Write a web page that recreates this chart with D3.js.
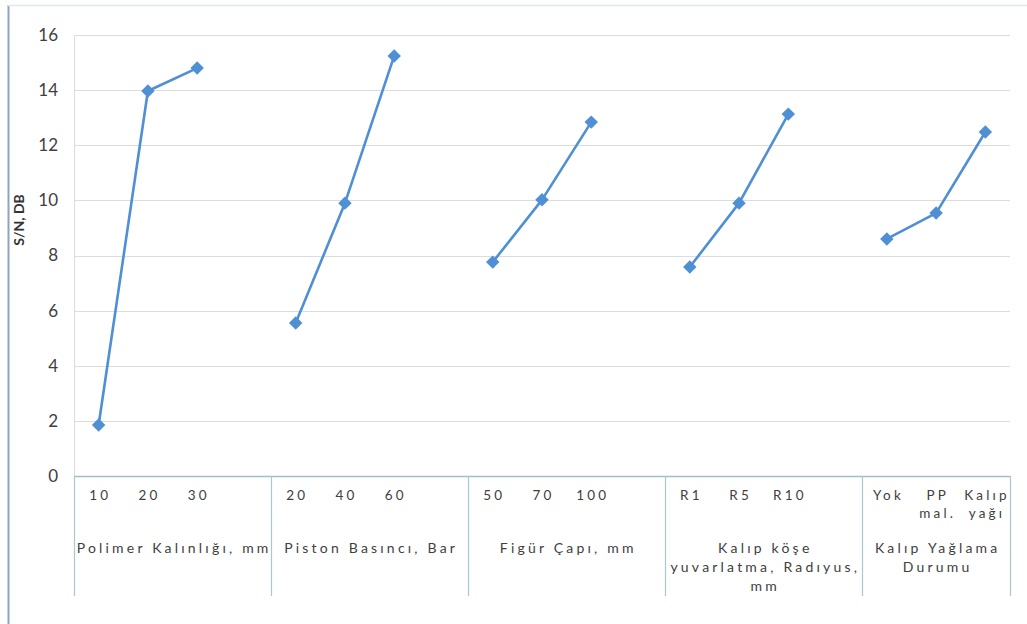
<!DOCTYPE html>
<html>
<head>
<meta charset="utf-8">
<script src="https://cdn.jsdelivr.net/npm/d3@7"></script>
<style>
  html, body { margin: 0; padding: 0; background: #ffffff; }
  svg { display: block; }
  text { font-family: Lato, "Open Sans", "Liberation Sans", sans-serif; fill: #404040; }
</style>
</head>
<body>
<svg id="chart" width="1027" height="624"></svg>
<script>
// ---- data ----
const groupLabels = [
  ["Polimer Kalınlığı, mm"],
  ["Piston Basıncı, Bar"],
  ["Figür Çapı, mm"],
  ["Kalıp köşe", "yuvarlatma, Radıyus,", "mm"],
  ["Kalıp Yağlama", "Durumu"]
];
const levelLabels = [
  ["10", "20", "30"],
  ["20", "40", "60"],
  ["50", "70", "100"],
  ["R1", "R5", "R10"],
  ["Yok", "PP\nmal.", "Kalıp\nyağı"]
];
const snValues = [
  [1.85, 13.97, 14.80],
  [5.55, 9.90, 15.24],
  [7.76, 10.02, 12.84],
  [7.58, 9.90, 13.13],
  [8.60, 9.54, 12.48]
];
const yTicks = [0, 2, 4, 6, 8, 10, 12, 14, 16];
const yTitle = "S/N, DB";

// ---- layout ----
const W = 1027, H = 624;
const plot = { left: 74, right: 1010, top: 35, bottom: 476 };
const tableBottom = 596;
const blue = "#4F8FD4";

const svg = d3.select("#chart");

// slots: three levels per group, plus one empty slot between groups
const slots = [];
groupLabels.forEach((g, gi) => {
  levelLabels[gi].forEach((l, li) => slots.push(`g${gi}-${li}`));
  if (gi < groupLabels.length - 1) slots.push(`gap${gi}`);
});

const x = d3.scaleBand().domain(slots).range([plot.left, plot.right]).padding(0);
const y = d3.scaleLinear().domain([0, 16]).range([plot.bottom, plot.top]);
const cx = key => x(key) + x.bandwidth() / 2;

// outer frame
svg.append("line").attr("x1", 8.5).attr("x2", 8.5).attr("y1", 5).attr("y2", H)
  .attr("stroke", "#8ea3c8").attr("stroke-width", 2);
svg.append("line").attr("x1", 8).attr("x2", W).attr("y1", 5.5).attr("y2", 5.5)
  .attr("stroke", "#dde9ec").attr("stroke-width", 1.5);

// gridlines
svg.append("g").selectAll("line").data(yTicks.filter(t => t > 0)).join("line")
  .attr("x1", plot.left).attr("x2", plot.right)
  .attr("y1", d => Math.round(y(d)) + 0.5).attr("y2", d => Math.round(y(d)) + 0.5)
  .attr("stroke", "#dcdcdc").attr("stroke-width", 1);
// plot-area left border
svg.append("line").attr("x1", plot.left + 0.5).attr("x2", plot.left + 0.5)
  .attr("y1", plot.top).attr("y2", plot.bottom)
  .attr("stroke", "#dcdcdc");

// y axis labels
const yAxis = d3.axisLeft(y).tickValues(yTicks).tickSize(0).tickPadding(0);
const yg = svg.append("g").attr("transform", `translate(${plot.left - 16},0)`).call(yAxis);
yg.select(".domain").remove();
yg.selectAll("text").style("font-size", "17px").style("fill", "#404040")
  .style("font-family", "Lato, 'Open Sans', sans-serif");

// y title
svg.append("text")
  .attr("transform", `translate(24,220) rotate(-90)`)
  .attr("text-anchor", "middle")
  .style("font-size", "14px").style("font-weight", "bold").style("fill", "#333")
  .text(yTitle);

// category table
const groupStart = gi => x(`g${gi}-0`);
const groupEnd = gi => gi < groupLabels.length - 1 ? x(`g${gi + 1}-0`) : plot.right;
const tableColor = "#a7c8cf";
svg.append("line").attr("x1", plot.left).attr("x2", plot.right)
  .attr("y1", plot.bottom + 0.5).attr("y2", plot.bottom + 0.5)
  .attr("stroke", "#9fc0c8").attr("stroke-width", 1.5);
const bounds = groupLabels.map((g, gi) => groupStart(gi)).concat([plot.right]);
svg.append("g").selectAll("line").data(bounds).join("line")
  .attr("x1", d => Math.round(d) + 0.5).attr("x2", d => Math.round(d) + 0.5)
  .attr("y1", plot.bottom).attr("y2", tableBottom)
  .attr("stroke", tableColor).attr("stroke-width", 1.2);

// level labels
const ls = 3.2;
const lvl = svg.append("g").style("font-size", "13.5px").style("letter-spacing", ls + "px");
levelLabels.forEach((labels, gi) => {
  labels.forEach((lab, li) => {
    const px = cx(`g${gi}-${li}`) + ls / 2;
    const t = lvl.append("text").attr("text-anchor", "middle").attr("x", px).attr("y", 500);
    lab.split("\n").forEach((line, k) => {
      t.append("tspan").attr("x", px).attr("dy", k === 0 ? 0 : 18).text(line);
    });
  });
});

// group labels
const grp = svg.append("g").style("font-size", "14px").style("letter-spacing", ls + "px");
groupLabels.forEach((lines, gi) => {
  const mx = (groupStart(gi) + groupEnd(gi)) / 2 + ls / 2;
  const t = grp.append("text").attr("text-anchor", "middle").attr("x", mx).attr("y", 553);
  lines.forEach((line, k) => {
    t.append("tspan").attr("x", mx).attr("dy", k === 0 ? 0 : 19).text(line);
  });
});

// series lines and markers
const line = d3.line().x(d => d.x).y(d => y(d.v));
snValues.forEach((vals, gi) => {
  const pts = vals.map((v, li) => ({ x: cx(`g${gi}-${li}`), v }));
  svg.append("path").datum(pts).attr("d", line)
    .attr("fill", "none").attr("stroke", blue).attr("stroke-width", 2.6)
    .attr("stroke-linejoin", "round");
  svg.append("g").selectAll("path").data(pts).join("path")
    .attr("d", d3.symbol().type(d3.symbolDiamond2).size(115))
    .attr("transform", d => `translate(${d.x},${y(d.v)})`)
    .attr("fill", blue);
});
</script>
</body>
</html>
